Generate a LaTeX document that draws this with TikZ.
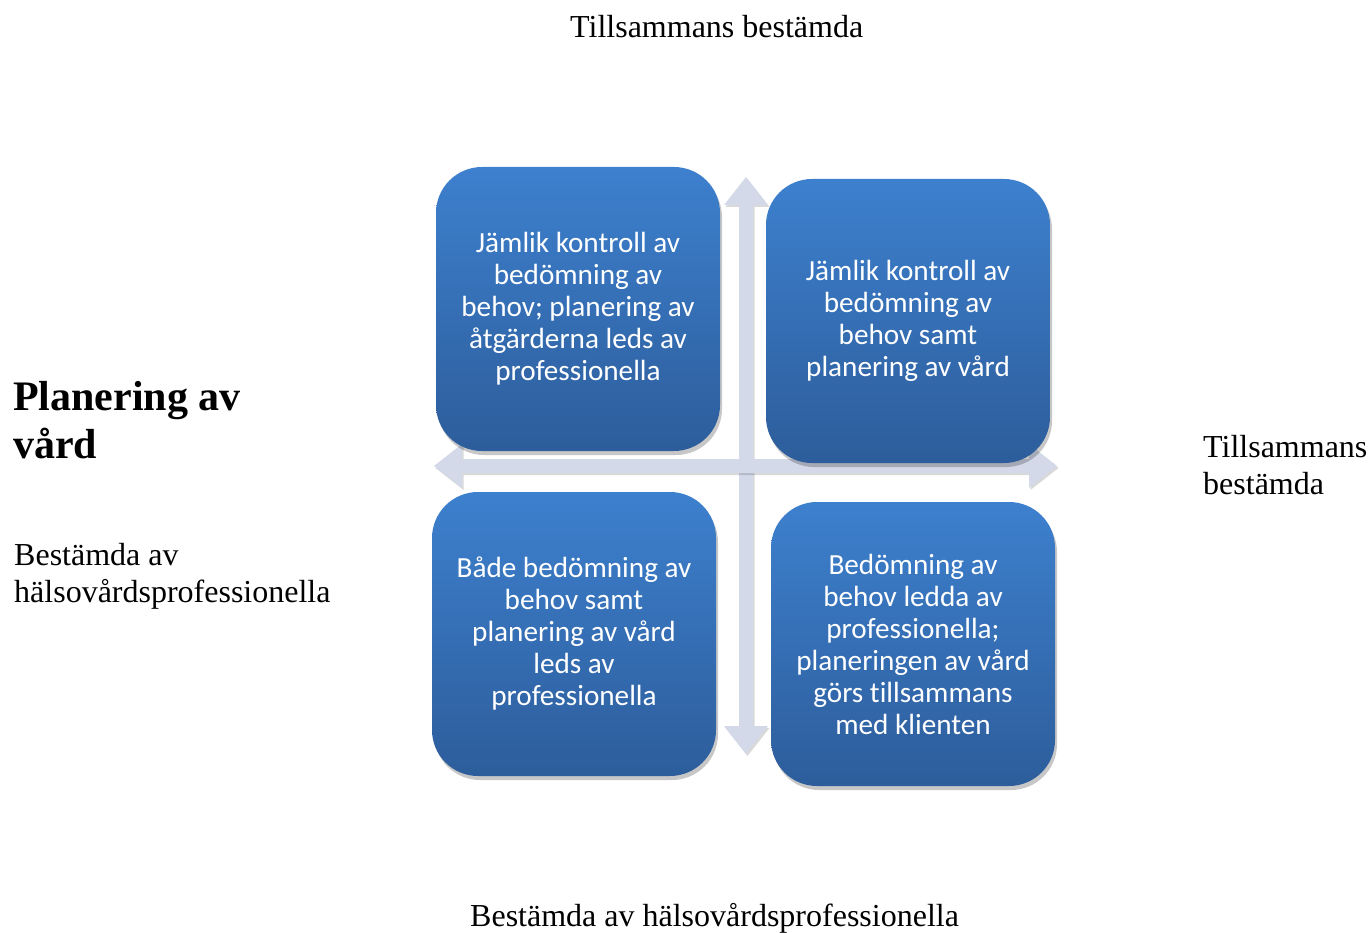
\documentclass[tikz,border=0pt]{standalone}
\usepackage{fontspec}
\setmainfont{Liberation Serif}
\newfontfamily\boxfont[Ligatures=NoCommon]{Carlito}
\usetikzlibrary{shadows}
\definecolor{axisgrey}{RGB}{211,217,232}
\definecolor{boxtop}{RGB}{61,128,206}
\definecolor{boxbottom}{RGB}{45,93,155}
\begin{document}
\begin{tikzpicture}[x=1pt,y=-1pt,
  quadrant/.style={draw=none, rounded corners=46pt,
    minimum width=284pt, minimum height=284pt, inner sep=0pt,
    top color=boxtop, bottom color=boxbottom,
    text=white, align=center,
    font=\boxfont\fontsize{29.2}{32}\selectfont,
    drop shadow={shadow xshift=2pt, shadow yshift=-4pt, opacity=0.22, fill=black}},
  axis/.style={fill=axisgrey, draw=none,
    drop shadow={shadow xshift=1.5pt, shadow yshift=-2pt, opacity=0.15, fill=black}},
  label/.style={anchor=base west, inner sep=0pt,
    font=\fontsize{32}{37}\selectfont},
  titlelabel/.style={anchor=base west, inner sep=0pt,
    font=\bfseries\fontsize{42}{48}\selectfont}]
\useasboundingbox (0,0) rectangle (1369,933);

% axes: vertical and horizontal double-headed arrows
\fill[axis] (746,177) -- (768,205) -- (753,205) -- (753,726) -- (768,726)
  -- (746,754) -- (724,726) -- (739,726) -- (739,205) -- (724,205) -- cycle;
\fill[axis] (434,466) -- (462,444) -- (462,459) -- (1029,459) -- (1029,444)
  -- (1057,466) -- (1029,488) -- (1029,473) -- (462,473) -- (462,488) -- cycle;

% quadrants
\node[quadrant] (tl) at (578,309) {Jämlik kontroll av\\bedömning av\\behov; planering av\\åtgärderna leds av\\professionella};
\node[quadrant] (tr) at (908,321) {Jämlik kontroll av\\bedömning av\\behov samt\\planering av vård};
\node[quadrant] (bl) at (574,634) {Både bedömning av\\behov samt\\planering av vård\\leds av\\professionella};
\node[quadrant] (br) at (913,644) {Bedömning av\\behov ledda av\\professionella;\\planeringen av vård\\görs tillsammans\\med klienten};

% axis labels
\node[label] (toplabel) at (570,38) {Tillsammans bestämda};
\node[label] (bottomlabel) at (470,926) {Bestämda av hälsovårdsprofessionella};
\node[label] (right1) at (1203,457) {Tillsammans};
\node[label] (right2) at (1203,494) {bestämda};
\node[label] (left1) at (14,565) {Bestämda av};
\node[label] (left2) at (14,602) {hälsovårdsprofessionella};
\node[titlelabel] (title1) at (13,410) {Planering av};
\node[titlelabel] (title2) at (13,458) {vård};
\end{tikzpicture}
\end{document}
